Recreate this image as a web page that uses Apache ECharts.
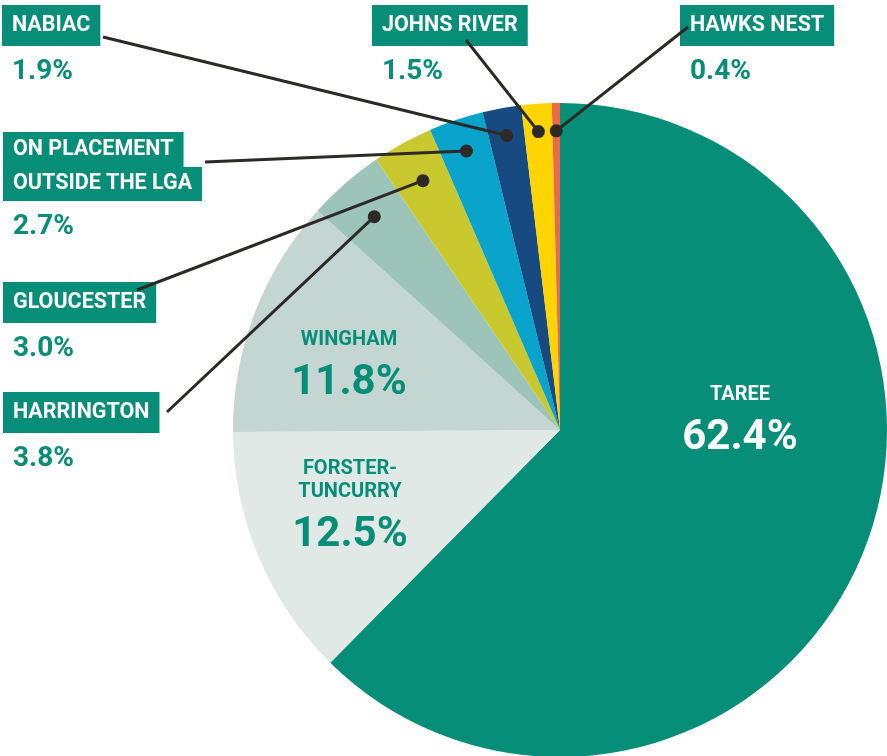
<!DOCTYPE html>
<html>
<head>
<meta charset="utf-8">
<script src="https://cdn.jsdelivr.net/npm/echarts@6/dist/echarts.min.js"></script>
<style>
  html, body { margin: 0; padding: 0; background: #fff; }
  #main { width: 887px; height: 756px; }
</style>
</head>
<body>
<div id="main"></div>
<script>
// data, clockwise from 12 o'clock
var places = ['TAREE', 'FORSTER-\nTUNCURRY', 'WINGHAM', 'HARRINGTON', 'GLOUCESTER',
  'ON PLACEMENT\nOUTSIDE THE LGA', 'NABIAC', 'JOHNS RIVER', 'HAWKS NEST'];
var shares = [62.4, 12.5, 11.8, 3.8, 3.0, 2.7, 1.9, 1.5, 0.4];
var colors = ['#078e78', '#e0e9e6', '#c4d6d1', '#9cc4b9', '#c9c92f', '#09a3cc', '#164a80', '#ffd400', '#ec6a45'];

var teal = '#078e78';
var ink = '#2d2926';
var cx = 560, cy = 430, R = 327;

// labels placed on the page (top-left for boxed ones, top-centre for inner ones)
var inner = {
  0: { x: 740, y: 383, white: true },
  1: { x: 350, y: 457 },
  2: { x: 349, y: 328 }
};
var outer = {
  3: { x: 3, y: 392, end: [167, 412], depth: 0.865 },
  4: { x: 3, y: 282, end: [137, 290], depth: 0.87 },
  5: { x: 3, y: 132, end: [205, 162], depth: 0.9 },
  6: { x: 2, y: 5, end: [103, 37], depth: 0.915 },
  7: { x: 372, y: 5, end: [466, 40], depth: 0.915 },
  8: { x: 680, y: 5, end: [688, 27], depth: 0.915 }
};

var total = shares.reduce(function (a, b) { return a + b; }, 0);
var mids = [];
var acc = 0;
shares.forEach(function (v) { mids.push(acc + v / 2); acc += v; });

var chartDom = document.getElementById('main');
var myChart = echarts.init(chartDom);
var option;

var pieData = places.map(function (p, i) {
  return { name: p, value: shares[i], itemStyle: { color: colors[i] } };
});

// leader lines: [depth along radius, middle of slice, slice index]
var leaders = Object.keys(outer).map(function (k) {
  return [outer[k].depth, mids[k], Number(k)];
});

option = {
  animation: false,
  textStyle: { fontFamily: 'Roboto' },
  polar: { center: [cx, cy], radius: R },
  angleAxis: { type: 'value', min: 0, max: total, startAngle: 90, clockwise: true, show: false },
  radiusAxis: { type: 'value', min: 0, max: 1, show: false },
  series: [
    {
      type: 'pie',
      center: [cx, cy],
      radius: R,
      startAngle: 90,
      clockwise: true,
      avoidLabelOverlap: false,
      data: pieData,
      itemStyle: { borderWidth: 0 },
      label: {
        show: true,
        position: 'inside',
        fontFamily: 'Roboto',
        formatter: function (p) {
          var i = p.dataIndex;
          var pct = p.value.toFixed(1) + '%';
          var lines = p.name.split('\n');
          if (inner[i]) {
            var s = inner[i].white ? 'W' : 'T';
            return lines.map(function (l) { return '{name' + s + '|' + l + '}'; }).join('\n') +
              '\n{pct' + s + '|' + pct + '}';
          }
          var head = lines.length > 1
            ? '{boxT|' + lines[0] + '}\n{boxB|' + lines[1] + '}'
            : '{box|' + lines[0] + '}';
          return head + '\n{pct|' + pct + '}';
        },
        rich: {
          box: { color: '#fff', backgroundColor: teal, fontSize: 21.5, fontWeight: 'bold', height: 41, lineHeight: 41, padding: [0, 10] },
          boxT: { color: '#fff', backgroundColor: teal, fontSize: 21.5, fontWeight: 'bold', height: 35, lineHeight: 35, padding: [0, 10] },
          boxB: { color: '#fff', backgroundColor: teal, fontSize: 21.5, fontWeight: 'bold', height: 34, lineHeight: 34, padding: [0, 10] },
          pct: { color: teal, fontSize: 28, fontWeight: 'bold', lineHeight: 52, padding: [0, 0, 0, 10] },
          nameT: { color: teal, fontSize: 20, fontWeight: 'bold', lineHeight: 23, align: 'center' },
          pctT: { color: teal, fontSize: 42, fontWeight: 'bold', lineHeight: 64, align: 'center' },
          nameW: { color: '#fff', fontSize: 20, fontWeight: 'bold', lineHeight: 23, align: 'center' },
          pctW: { color: '#fff', fontSize: 42, fontWeight: 'bold', lineHeight: 64, align: 'center' }
        }
      },
      labelLine: { show: false },
      labelLayout: function (params) {
        var i = params.dataIndex;
        if (inner[i]) {
          return { x: inner[i].x, y: inner[i].y, align: 'center', verticalAlign: 'top' };
        }
        return { x: outer[i].x, y: outer[i].y, align: 'left', verticalAlign: 'top' };
      }
    },
    {
      type: 'custom',
      coordinateSystem: 'polar',
      data: leaders,
      silent: true,
      z: 5,
      renderItem: function (params, api) {
        var d = api.coord([api.value(0), api.value(1)]);
        var end = outer[api.value(2)].end;
        return {
          type: 'group',
          children: [
            {
              type: 'line',
              shape: { x1: d[0], y1: d[1], x2: end[0], y2: end[1] },
              style: { stroke: ink, lineWidth: 3 }
            },
            {
              type: 'circle',
              shape: { cx: d[0], cy: d[1], r: 6.5 },
              style: { fill: ink }
            }
          ]
        };
      }
    }
  ]
};

option && myChart.setOption(option);
</script>
</body>
</html>
